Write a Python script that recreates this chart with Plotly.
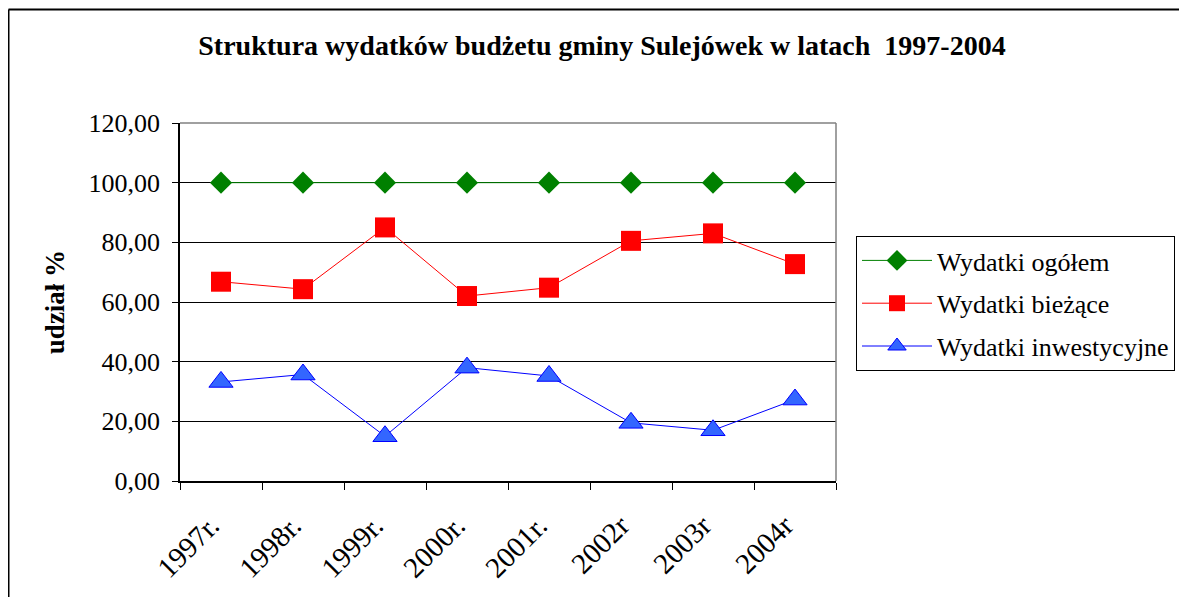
import plotly.graph_objects as go

categories = ["1997r.", "1998r.", "1999r.", "2000r.", "2001r.", "2002r", "2003r", "2004r"]
ogolem = [100, 100, 100, 100, 100, 100, 100, 100]
biezace = [66.8, 64.3, 85.0, 62.0, 64.8, 80.5, 83.0, 72.7]
inwestycyjne = [33.2, 35.7, 15.0, 38.0, 35.2, 19.5, 17.0, 27.3]
y_ticks = [0, 20, 40, 60, 80, 100, 120]

FONT = "Liberation Serif"

# the page places the figure 8px from the top-left corner
OFF = 8
W, H = 1187, 597
L, R, T, B = 180 - OFF, 836 - OFF, 123 - OFF, 481 - OFF

def px(x):
    return (x - OFF - L) / (R - L)

def py(y):
    return (B - (y - OFF)) / (B - T)

fig = go.Figure()
fig.add_trace(go.Scatter(
    x=categories, y=ogolem, name="Wydatki ogółem", mode="lines+markers",
    line=dict(color="#008000", width=1),
    marker=dict(symbol="diamond", size=17, color="#008000", line=dict(width=0)),
    legendgroup="a"))
fig.add_trace(go.Scatter(
    x=categories, y=biezace, name="Wydatki bieżące", mode="lines+markers",
    line=dict(color="#FF0000", width=1),
    marker=dict(symbol="square", size=20, color="#FF0000", line=dict(width=0)),
    legendgroup="b"))
fig.add_trace(go.Scatter(
    x=categories, y=inwestycyjne, name="Wydatki inwestycyjne", mode="lines+markers",
    line=dict(color="#0000FF", width=1),
    marker=dict(symbol="triangle-up", size=21, color="#3366FF", line=dict(width=1, color="#0000FF")),
    legendgroup="c"))

shapes = [
    dict(type="line", xref="paper", yref="paper", x0=0, x1=1, y0=1, y1=1,
         line=dict(color="#808080", width=1.5)),
    dict(type="line", xref="paper", yref="paper", x0=1, x1=1, y0=0, y1=1,
         line=dict(color="#808080", width=1.5)),
    dict(type="line", xref="paper", yref="paper", x0=px(8.5), x1=px(8.5), y0=py(9.5), y1=py(640),
         line=dict(color="#000000", width=2)),
    dict(type="line", xref="paper", yref="paper", x0=px(8.5), x1=px(1220), y0=py(9.5), y1=py(9.5),
         line=dict(color="#000000", width=2)),
]

fig.update_layout(
    width=W, height=H,
    margin=dict(l=L, r=W - R, t=T, b=H - B),
    paper_bgcolor="white", plot_bgcolor="white",
    separators=", ",
    font=dict(family=FONT, color="black", size=24),
    title=dict(text="<b>Struktura wydatków budżetu gminy Sulejówek w latach\u00a0\u00a01997-2004</b>",
               x=(602 - OFF) / W, xanchor="center", y=1 - (45 - OFF) / H, yanchor="middle",
               font=dict(family=FONT, size=28, color="black")),
    showlegend=True,
    legend=dict(x=px(856), xanchor="left", y=py(236), yanchor="top",
                bordercolor="black", borderwidth=1, bgcolor="white",
                font=dict(family=FONT, size=26, color="black"),
                traceorder="grouped", tracegroupgap=6, itemwidth=70),
    shapes=shapes,
    xaxis=dict(
        type="category", range=[-0.5, 7.5],
        tickvals=categories, ticktext=[c + "\u00a0\u00a0" for c in categories],
        showline=True, linecolor="black", linewidth=1.5,
        ticks="outside", tickson="boundaries", ticklen=7, tickcolor="black",
        tickangle=-45, showgrid=False, ticklabelstandoff=4,
        tickfont=dict(family=FONT, size=29, color="black"),
    ),
    yaxis=dict(
        range=[0, 120], tickvals=y_ticks, tickformat=".2f",
        showline=True, linecolor="black", linewidth=1.5,
        ticks="outside", ticklen=6, tickcolor="black",
        showgrid=True, gridcolor="#000000", gridwidth=1,
        zeroline=False,
        tickfont=dict(family=FONT, size=26, color="black"),
        ticklabelstandoff=7,
        title=dict(text="<b>udział %</b>", standoff=16,
                   font=dict(family=FONT, size=27, color="black")),
    ),
)

fig.write_html("out.html")
